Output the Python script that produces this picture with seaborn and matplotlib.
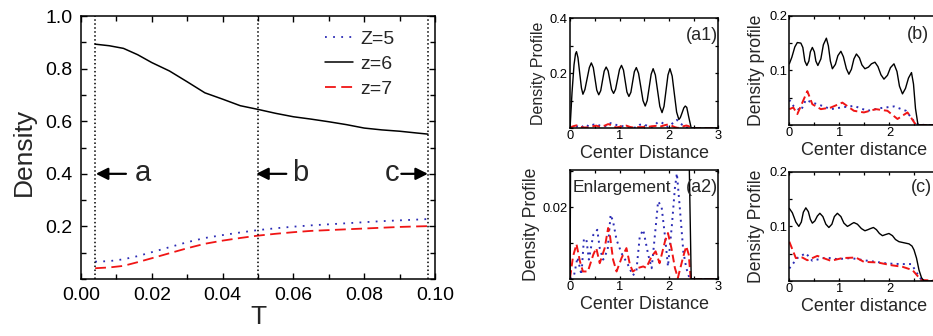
import numpy as np
import matplotlib
matplotlib.use("Agg")
import matplotlib.pyplot as plt
from matplotlib.ticker import MultipleLocator, FormatStrFormatter
import seaborn as sns

# ---- main panel: density vs T ----
T = [0.004, 0.008, 0.012, 0.016, 0.020, 0.025, 0.030, 0.035, 0.040, 0.045, 0.050,
     0.055, 0.060, 0.065, 0.070, 0.075, 0.080, 0.085, 0.090, 0.095, 0.098]
dens_z5 = [0.066, 0.068, 0.075, 0.087, 0.102, 0.121, 0.140, 0.156, 0.167, 0.177, 0.186,
           0.193, 0.199, 0.204, 0.208, 0.212, 0.216, 0.220, 0.223, 0.226, 0.228]
dens_z6 = [0.893, 0.887, 0.877, 0.853, 0.823, 0.791, 0.750, 0.708, 0.684, 0.659, 0.645,
           0.630, 0.617, 0.608, 0.598, 0.587, 0.574, 0.567, 0.562, 0.555, 0.551]
dens_z7 = [0.041, 0.044, 0.050, 0.064, 0.079, 0.098, 0.117, 0.134, 0.146, 0.156, 0.165,
           0.172, 0.178, 0.183, 0.186, 0.189, 0.192, 0.195, 0.198, 0.200, 0.201]
marked_T = [0.004, 0.05, 0.098]
arrow_labels = ["a", "b", "c"]
arrow_tail = [0.0127, 0.058, 0.0905]
arrow_head = [0.0042, 0.0495, 0.098]
arrow_text_x = [0.0176, 0.0618, 0.088]

# ---- (a1)/(a2): profiles at T=a ----
a_x6 = [0.0, 0.04, 0.08, 0.11, 0.13, 0.16, 0.195, 0.23, 0.26, 0.30, 0.345, 0.39, 0.43,
        0.47, 0.505, 0.54, 0.58, 0.62, 0.655, 0.69, 0.73, 0.77, 0.805, 0.84, 0.88,
        0.92, 0.96, 1.0, 1.04, 1.08, 1.115, 1.15, 1.19, 1.23, 1.265, 1.30, 1.34,
        1.385, 1.43, 1.475, 1.52, 1.56, 1.60, 1.64, 1.68, 1.725, 1.77, 1.815, 1.86,
        1.90, 1.94, 1.98, 2.02, 2.065, 2.11, 2.155, 2.20, 2.23, 2.265, 2.30, 2.33,
        2.36, 2.40, 2.45, 2.6, 3.0]
a_z6 = [0.0, 0.13, 0.23, 0.27, 0.278, 0.256, 0.200, 0.146, 0.123, 0.140, 0.180, 0.220, 0.237,
        0.220, 0.179, 0.138, 0.121, 0.136, 0.172, 0.207, 0.222, 0.208, 0.174, 0.140, 0.126,
        0.141, 0.177, 0.213, 0.228, 0.211, 0.171, 0.131, 0.115, 0.130, 0.168, 0.205, 0.220,
        0.199, 0.150, 0.100, 0.080, 0.100, 0.148, 0.196, 0.216, 0.193, 0.136, 0.079, 0.056,
        0.079, 0.136, 0.193, 0.216, 0.189, 0.123, 0.058, 0.031, 0.038, 0.055, 0.073, 0.080,
        0.075, 0.040, 0.0, 0.0, 0.0]
a_x5 = [0.0, 0.08, 0.15, 0.23, 0.28, 0.33, 0.38, 0.47, 0.55, 0.60, 0.67, 0.76, 0.82, 0.87,
        0.94, 1.04, 1.17, 1.27, 1.34, 1.41, 1.48, 1.58, 1.65, 1.73, 1.78, 1.85, 1.92,
        1.98, 2.06, 2.12, 2.16, 2.22, 2.29, 2.35, 2.42, 2.7, 3.0]
a_z5 = [0.0, 0.001, 0.006, 0.0012, 0.0112, 0.0111, 0.0054, 0.0123, 0.0137, 0.0086, 0.0054,
        0.0081, 0.0179, 0.0160, 0.0109, 0.0072, 0.0040, 0.0010, 0.0021, 0.0119, 0.0137,
        0.0068, 0.0030, 0.0142, 0.0216, 0.0202, 0.0119, 0.0035, 0.0151, 0.0253, 0.0294,
        0.0197, 0.0077, 0.0031, 0.0, 0.0, 0.0]
a_x7 = [0.0, 0.06, 0.13, 0.20, 0.26, 0.36, 0.47, 0.53, 0.60, 0.70, 0.77, 0.80, 0.87, 0.94,
        1.04, 1.14, 1.21, 1.27, 1.38, 1.48, 1.54, 1.65, 1.73, 1.81, 1.92, 1.98, 2.05,
        2.12, 2.18, 2.29, 2.35, 2.40, 2.44, 2.7, 3.0]
a_z7 = [0.0003, 0.0063, 0.0097, 0.0049, 0.0021, 0.0021, 0.0068, 0.0086, 0.0044, 0.0086,
        0.0142, 0.0128, 0.0054, 0.0021, 0.0058, 0.0086, 0.0040, 0.0021, 0.0031, 0.0035,
        0.0031, 0.0063, 0.0077, 0.0044, 0.0105, 0.0128, 0.0086, 0.0031, 0.0003, 0.0063,
        0.0091, 0.0068, 0.0, 0.0, 0.0]

# ---- (b): profiles at T=b ----
b_x6 = [0.0, 0.05, 0.11, 0.16, 0.23, 0.27, 0.31, 0.35, 0.39, 0.42, 0.46, 0.50, 0.53, 0.57,
        0.63, 0.68, 0.74, 0.78, 0.82, 0.86, 0.92, 0.97, 1.03, 1.08, 1.14, 1.19, 1.24,
        1.29, 1.34, 1.40, 1.45, 1.51, 1.58, 1.64, 1.71, 1.77, 1.83, 1.89, 1.96, 2.02,
        2.09, 2.15, 2.20, 2.26, 2.32, 2.38, 2.44, 2.48, 2.52, 2.57, 2.7, 3.0]
b_z6 = [0.112, 0.124, 0.143, 0.151, 0.150, 0.142, 0.117, 0.109, 0.117, 0.134, 0.142, 0.134,
        0.117, 0.109, 0.121, 0.147, 0.159, 0.145, 0.117, 0.103, 0.111, 0.127, 0.135, 0.125,
        0.103, 0.093, 0.102, 0.121, 0.130, 0.123, 0.110, 0.103, 0.106, 0.112, 0.115, 0.107,
        0.092, 0.084, 0.091, 0.105, 0.112, 0.098, 0.071, 0.057, 0.067, 0.086, 0.096, 0.075,
        0.030, 0.0, 0.0, 0.0]
b_x5 = [0.0, 0.09, 0.23, 0.33, 0.46, 0.66, 0.83, 1.03, 1.29, 1.56, 1.83, 2.09, 2.33, 2.53,
        2.7, 3.0]
b_z5 = [0.046, 0.034, 0.026, 0.046, 0.041, 0.035, 0.029, 0.032, 0.035, 0.026, 0.031, 0.034,
        0.026, 0.002, 0.0, 0.0]
b_x7 = [0.0, 0.08, 0.16, 0.36, 0.46, 0.63, 0.83, 1.06, 1.29, 1.49, 1.73, 1.96, 2.16, 2.36,
        2.53, 2.7, 3.0]
b_z7 = [0.029, 0.032, 0.020, 0.062, 0.038, 0.029, 0.032, 0.041, 0.026, 0.023, 0.029, 0.026,
        0.011, 0.023, 0.0, 0.0, 0.0]

# ---- (c): profiles at T=c ----
c_x6 = [0.0, 0.06, 0.13, 0.19, 0.24, 0.28, 0.33, 0.38, 0.42, 0.46, 0.51, 0.56, 0.61, 0.67,
        0.73, 0.79, 0.85, 0.90, 0.96, 1.03, 1.09, 1.16, 1.20, 1.25, 1.29, 1.36, 1.44,
        1.51, 1.57, 1.62, 1.68, 1.74, 1.80, 1.86, 1.92, 1.99, 2.06, 2.12, 2.19, 2.29,
        2.39, 2.45, 2.49, 2.54, 2.59, 2.64, 2.69, 3.0]
c_z6 = [0.133, 0.125, 0.108, 0.100, 0.108, 0.126, 0.134, 0.127, 0.113, 0.106, 0.110, 0.119,
        0.124, 0.118, 0.104, 0.098, 0.104, 0.118, 0.124, 0.118, 0.106, 0.100, 0.102, 0.105,
        0.107, 0.104, 0.096, 0.092, 0.094, 0.096, 0.098, 0.094, 0.087, 0.083, 0.085, 0.087,
        0.083, 0.076, 0.072, 0.070, 0.068, 0.064, 0.057, 0.042, 0.020, 0.006, 0.0, 0.0]
c_x5 = [0.0, 0.16, 0.33, 0.46, 0.73, 0.96, 1.23, 1.49, 1.73, 1.96, 2.23, 2.44, 2.59, 2.66,
        3.0]
c_z5 = [0.023, 0.042, 0.051, 0.037, 0.043, 0.040, 0.042, 0.038, 0.035, 0.032, 0.031, 0.031,
        0.008, 0.0, 0.0]
c_x7 = [0.0, 0.13, 0.26, 0.36, 0.56, 0.83, 1.06, 1.33, 1.49, 1.76, 2.03, 2.26, 2.46, 2.63,
        3.0]
c_z7 = [0.072, 0.042, 0.043, 0.038, 0.046, 0.037, 0.042, 0.043, 0.035, 0.034, 0.029, 0.026,
        0.020, 0.002, 0.0]

BLUE = "#2b2bb5"
RED = "#f01515"

sns.set_style("ticks")
plt.rcParams["font.family"] = ["Liberation Sans", "DejaVu Sans"]
plt.rcParams["axes.linewidth"] = 1.1
plt.rcParams["axes.edgecolor"] = "black"
plt.rcParams["xtick.color"] = "black"
plt.rcParams["ytick.color"] = "black"


def draw(ax, x, y, color, style, lw, label=None):
    sns.lineplot(x=x, y=y, ax=ax, color=color, linestyle=style, lw=lw,
                 errorbar=None, label=label)


fig = plt.figure(figsize=(9.33, 3.36), dpi=100)

# main
ax = fig.add_axes([0.0868, 0.1696, 0.3794, 0.7827])
draw(ax, T, dens_z5, BLUE, (0, (1, 3.5)), 1.3, "Z=5")
draw(ax, T, dens_z6, "black", "-", 1.1, "z=6")
draw(ax, T, dens_z7, RED, (0, (6, 3)), 1.3, "z=7")
for t in marked_T:
    ax.axvline(t, color="black", ls=(0, (1, 1.6)), lw=1.1)
for lab, tail, head, tx in zip(arrow_labels, arrow_tail, arrow_head, arrow_text_x):
    ax.annotate("", xy=(head, 0.4), xytext=(tail, 0.4),
                arrowprops=dict(arrowstyle="-|>,head_length=0.6,head_width=0.3",
                                color="black", lw=1.6, mutation_scale=12,
                                shrinkA=0, shrinkB=0))
    ax.text(tx, 0.405, lab, fontsize=21, ha="center", va="center")
ax.set_xlim(0, 0.1)
ax.set_ylim(0, 1.0)
ax.xaxis.set_major_locator(MultipleLocator(0.02))
ax.xaxis.set_minor_locator(MultipleLocator(0.01))
ax.xaxis.set_major_formatter(FormatStrFormatter("%.2f"))
ax.set_yticks([0.2, 0.4, 0.6, 0.8, 1.0])
ax.yaxis.set_minor_locator(MultipleLocator(0.1))
ax.yaxis.set_major_formatter(FormatStrFormatter("%.1f"))
ax.tick_params(which="both", direction="in", top=True, right=True, labelsize=14,
               width=1.0)
ax.tick_params(which="major", length=4.5, pad=6)
ax.tick_params(which="minor", length=3.5)
ax.set_xlabel("T", fontsize=19)
ax.set_ylabel("Density", fontsize=19)
ax.xaxis.set_label_coords(0.5, -0.1)
ax.yaxis.set_label_coords(-0.128, 0.483)
ax.legend(frameon=False, loc="upper left", bbox_to_anchor=(0.69, 0.945),
          borderaxespad=0, borderpad=0, fontsize=14, handlelength=1.45,
          handletextpad=0.35, labelspacing=0.38)


def small(rect, ylim, ymajor, yminor, ylabel, xlabel, tag, tagxy, ylab_x, xlab_y,
          ylab_size, clip_last=False):
    a = fig.add_axes(rect)
    a.set_xlim(0, 3)
    a.set_ylim(*ylim)
    a.set_xticks([0, 1, 2, 3])
    a.set_xticklabels(["0", "1", "2", "" if clip_last else "3"])
    a.xaxis.set_minor_locator(MultipleLocator(0.5))
    a.set_yticks(ymajor)
    a.yaxis.set_minor_locator(MultipleLocator(yminor))
    a.tick_params(which="both", direction="in", top=True, right=True, labelsize=9.3,
                  length=2.5, width=0.9, pad=1.5)
    a.set_ylabel(ylabel, fontsize=ylab_size)
    a.set_xlabel(xlabel, fontsize=13)
    a.yaxis.set_label_coords(ylab_x, 0.5)
    a.xaxis.set_label_coords(0.5, xlab_y)
    a.text(tagxy[0], tagxy[1], tag, transform=a.transAxes, fontsize=13,
           ha="right", va="center")
    return a


ax_a1 = small([0.611, 0.619, 0.159, 0.327], (0, 0.4), [0.2, 0.4], 0.1,
              "Density Profile", "Center Distance", "(a1)", (0.995, 0.845),
              -0.165, -0.152, 11.5)
draw(ax_a1, a_x5, a_z5, BLUE, (0, (1, 2.2)), 1.4)
draw(ax_a1, a_x7, a_z7, RED, (0, (4, 2)), 1.4)
draw(ax_a1, a_x6, a_z6, "black", "-", 1.0)

ax_b = small([0.846, 0.628, 0.161, 0.325], (0, 0.2), [0.1, 0.2], 0.05,
             "Density profile", "Center distance", "(b)", (0.93, 0.826),
             -0.16, -0.155, 12.7, clip_last=True)
draw(ax_b, b_x5, b_z5, BLUE, (0, (1, 2.2)), 1.4)
draw(ax_b, b_x7, b_z7, RED, (0, (4, 2)), 1.4)
draw(ax_b, b_x6, b_z6, "black", "-", 1.0)

ax_a2 = small([0.611, 0.1696, 0.159, 0.324], (0, 0.0303), [0.02], 0.01,
              "Density Profile", "Center Distance", "(a2)", (0.995, 0.844),
              -0.2, -0.155, 12.7)
ax_a2.text(0.02, 0.844, "Enlargement", transform=ax_a2.transAxes, fontsize=12.5,
           ha="left", va="center")
draw(ax_a2, a_x5, a_z5, BLUE, (0, (1, 2.2)), 1.4)
draw(ax_a2, a_x7, a_z7, RED, (0, (4, 2)), 1.4)
draw(ax_a2, a_x6, a_z6, "black", "-", 1.0)

ax_c = small([0.846, 0.1637, 0.161, 0.325], (0, 0.2), [0.1, 0.2], 0.05,
             "Density Profile", "Center distance", "(c)", (0.95, 0.853),
             -0.16, -0.155, 12.7, clip_last=True)
draw(ax_c, c_x5, c_z5, BLUE, (0, (1, 2.2)), 1.4)
draw(ax_c, c_x7, c_z7, RED, (0, (4, 2)), 1.4)
draw(ax_c, c_x6, c_z6, "black", "-", 1.0)

fig.savefig("out.png", dpi=100)
